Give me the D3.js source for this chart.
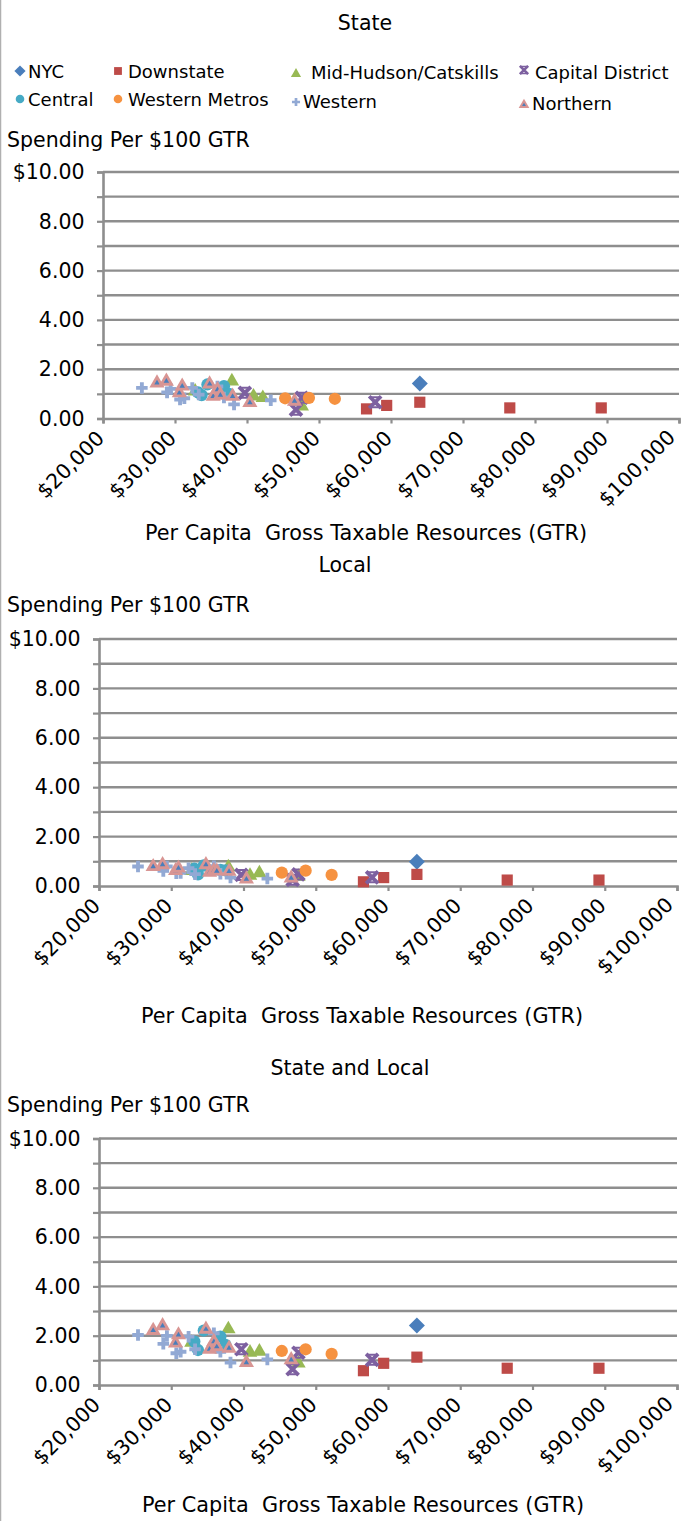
<!DOCTYPE html>
<html><head><meta charset="utf-8">
<script src="https://cdn.jsdelivr.net/npm/d3@7"></script>
<style>
body{margin:0;background:#fff}
svg{display:block}
text{font-family:"DejaVu Sans",sans-serif;fill:#000}
</style>
</head><body>
<svg id="chart" width="683" height="1521"></svg>
<script>
// ---------------- DATA ----------------
const panelTitles = ["State", "Local", "State and Local"];
const yAxisTitle = "Spending Per $100 GTR";
const xAxisTitle = "Per Capita  Gross Taxable Resources (GTR)";
const xTickValues = [20000, 30000, 40000, 50000, 60000, 70000, 80000, 90000, 100000];
const yTickValues = [0, 1, 2, 3, 4, 5, 6, 7, 8, 9, 10];
const seriesNames = ["NYC", "Downstate", "Mid-Hudson/Catskills", "Capital District",
  "Central", "Western Metros", "Western", "Northern"];

// Per capita GTR (x) and spending per $100 GTR for State / Local / State and Local
const nycGTR = [64000];
const nycState = [1.42];
const nycLocal = [0.98];
const nycTotal = [2.41];

const downstateGTR = [56600, 59400, 64000, 76500, 89200];
const downstateState = [0.39, 0.53, 0.66, 0.43, 0.43];
const downstateLocal = [0.17, 0.34, 0.47, 0.24, 0.24];
const downstateTotal = [0.58, 0.88, 1.13, 0.68, 0.68];

const midHudsonGTR = [32800, 37900, 40900, 42200, 47600];
const midHudsonState = [1.10, 1.51, 0.90, 0.84, 0.50];
const midHudsonLocal = [0.62, 0.76, 0.42, 0.52, 0.38];
const midHudsonTotal = [1.72, 2.27, 1.32, 1.36, 0.88];

const capitalGTR = [39700, 46800, 47600, 57800];
const capitalState = [1.04, 0.36, 0.84, 0.66];
const capitalLocal = [0.45, 0.25, 0.47, 0.35];
const capitalTotal = [1.45, 0.64, 1.31, 1.02];

const centralGTR = [33200, 33700, 34500, 36800, 37500];
const centralState = [1.06, 0.95, 1.38, 1.31, 1.00];
const centralLocal = [0.70, 0.47, 0.83, 0.65, 0.63];
const centralTotal = [1.76, 1.42, 2.21, 1.96, 1.63];

const westernMetrosGTR = [45300, 48600, 52200];
const westernMetrosState = [0.82, 0.84, 0.80];
const westernMetrosLocal = [0.54, 0.62, 0.45];
const westernMetrosTotal = [1.38, 1.45, 1.26];

const westernGTR = [25400, 28900, 29400, 30700, 31300, 32400, 33300, 35900, 36800, 38200, 43300];
const westernState = [1.24, 1.06, 1.20, 0.77, 0.82, 1.24, 0.97, 1.30, 0.85, 0.57, 0.74];
const westernLocal = [0.79, 0.61, 0.79, 0.52, 0.53, 0.72, 0.48, 0.80, 0.50, 0.34, 0.30];
const westernTotal = [2.03, 1.67, 1.99, 1.29, 1.35, 1.96, 1.45, 2.10, 1.35, 0.91, 1.04];

const northernGTR = [27500, 28800, 30600, 31000, 34800, 35300, 35900, 36300, 38000, 40400, 46600];
const northernState = [1.44, 1.51, 1.04, 1.31, 1.40, 0.90, 1.17, 0.95, 0.90, 0.64, 0.70];
const northernLocal = [0.78, 0.86, 0.62, 0.72, 0.86, 0.55, 0.62, 0.60, 0.59, 0.28, 0.32];
const northernTotal = [2.21, 2.40, 1.70, 2.03, 2.26, 1.45, 1.76, 1.55, 1.49, 0.91, 1.02];

// ---------------- BUILD TABLE ----------------
const seriesData = [
  [nycGTR, nycState, nycLocal, nycTotal],
  [downstateGTR, downstateState, downstateLocal, downstateTotal],
  [midHudsonGTR, midHudsonState, midHudsonLocal, midHudsonTotal],
  [capitalGTR, capitalState, capitalLocal, capitalTotal],
  [centralGTR, centralState, centralLocal, centralTotal],
  [westernMetrosGTR, westernMetrosState, westernMetrosLocal, westernMetrosTotal],
  [westernGTR, westernState, westernLocal, westernTotal],
  [northernGTR, northernState, northernLocal, northernTotal]
].map((arr, i) => ({
  name: seriesNames[i],
  points: arr[0].map((x, j) => ({ x, v: [arr[1][j], arr[2][j], arr[3][j]] }))
}));

// ---------------- STYLES ----------------
const styles = {
  "NYC": { type: "diamond", fill: "#4A7EBB" },
  "Downstate": { type: "square", fill: "#BE4B48" },
  "Mid-Hudson/Catskills": { type: "triangle", fill: "#98B954" },
  "Capital District": { type: "x", fill: "#7D60A0" },
  "Central": { type: "circle", fill: "#46AAC5" },
  "Western Metros": { type: "circle", fill: "#F69240" },
  "Western": { type: "plus", fill: "#92A9D4" },
  "Northern": { type: "northern", fill: "#D89593", inner: "#4A7EBB" }
};

function drawMarker(g, name, x, y, k) {
  const s = styles[name];
  const t = `translate(${x},${y})`;
  if (s.type === "diamond") {
    g.append("path").attr("d", d3.symbol(d3.symbolSquare, 128 * k * k)()).attr("transform", t + " rotate(45)").attr("fill", s.fill);
  } else if (s.type === "square") {
    g.append("path").attr("d", d3.symbol(d3.symbolSquare, 125 * k * k)()).attr("transform", t).attr("fill", s.fill);
  } else if (s.type === "triangle") {
    g.append("path").attr("d", d3.symbol(d3.symbolTriangle, 92 * k * k)()).attr("transform", t).attr("fill", s.fill);
  } else if (s.type === "circle") {
    g.append("path").attr("d", d3.symbol(d3.symbolCircle, 118 * k * k)()).attr("transform", t).attr("fill", s.fill);
  } else if (s.type === "plus") {
    g.append("path").attr("d", d3.symbol(d3.symbolCross, 74 * k * k)()).attr("transform", t).attr("fill", s.fill);
  } else if (s.type === "x") {
    g.append("path").attr("d", d3.symbol(d3.symbolX, 95 * k * k)()).attr("transform", t)
      .attr("fill", "none").attr("stroke", s.fill).attr("stroke-width", 3.8 * k);
    const h = 5 * k;
    g.append("path").attr("d", `M${-h},${-h}H${h}M${-h},${h}H${h}`).attr("transform", t)
      .attr("stroke", s.fill).attr("stroke-width", 2 * k);
  } else if (s.type === "northern") {
    g.append("path").attr("d", d3.symbol(d3.symbolTriangle, 100 * k * k)()).attr("transform", t).attr("fill", s.fill);
    g.append("path").attr("d", d3.symbol(d3.symbolTriangle, 13 * k * k)()).attr("transform", t).attr("fill", s.inner);
  }
}

// ---------------- LAYOUT ----------------
const svg = d3.select("#chart");
const gridColor = "#8e8e8e";

// left border line
svg.append("line").attr("x1", 0.5).attr("x2", 0.5).attr("y1", 0).attr("y2", 1521)
  .attr("stroke", "#b0b0b0").attr("stroke-width", 1.5);

const panels = [
  { left: 103, right: 679, top: 172, bottom: 418.5, titleX: 365, titleY: 29.5, yTitleY: 147, xTitleX: 366, xTitleY: 540 },
  { left: 99, right: 677, top: 639, bottom: 886, titleX: 345, titleY: 572, yTitleY: 612, xTitleX: 362, xTitleY: 1023 },
  { left: 99, right: 677, top: 1138.5, bottom: 1385, titleX: 350, titleY: 1075, yTitleY: 1112, xTitleX: 363, xTitleY: 1512 }
];

panels.forEach((p, pi) => {
  const x = d3.scaleLinear().domain([20000, 100000]).range([p.left, p.right]);
  const y = d3.scaleLinear().domain([0, 10]).range([p.bottom, p.top]);

  svg.append("text").attr("x", p.titleX).attr("y", p.titleY).attr("text-anchor", "middle")
    .attr("font-size", 20.5).text(panelTitles[pi]);
  svg.append("text").attr("x", 7).attr("y", p.yTitleY).attr("font-size", 20.5).text(yAxisTitle);
  svg.append("text").attr("x", p.xTitleX).attr("y", p.xTitleY).attr("text-anchor", "middle")
    .attr("font-size", 20.5).attr("textLength", 442).attr("lengthAdjust", "spacingAndGlyphs")
    .style("white-space", "pre").text(xAxisTitle);

  // gridlines
  svg.append("g").selectAll("line").data(yTickValues.filter(d => d > 0)).join("line")
    .attr("x1", p.left).attr("x2", p.right).attr("y1", d => y(d)).attr("y2", d => y(d))
    .attr("stroke", gridColor).attr("stroke-width", 2.4);

  // y axis
  const yAxis = svg.append("g").attr("transform", `translate(${p.left},0)`)
    .call(d3.axisLeft(y).tickValues(yTickValues).tickSize(6)
      .tickFormat(d => d === 10 ? "$10.00" : (d % 2 === 0 ? d.toFixed(2) : "")));
  yAxis.select(".domain").attr("stroke", gridColor).attr("stroke-width", 2.6);
  yAxis.selectAll(".tick line").attr("stroke", gridColor).attr("stroke-width", 2.2);
  yAxis.selectAll(".tick text").attr("x", -18.5).attr("dy", "0.33em")
    .attr("font-size", 20.5).attr("font-family", "DejaVu Sans").attr("fill", "#000");

  // x axis
  const xAxis = svg.append("g").attr("transform", `translate(0,${p.bottom})`)
    .call(d3.axisBottom(x).tickValues(xTickValues).tickSize(5)
      .tickFormat(d => "$" + d3.format(",")(d)));
  xAxis.select(".domain").attr("stroke", gridColor).attr("stroke-width", 2.6);
  xAxis.selectAll(".tick line").attr("stroke", gridColor).attr("stroke-width", 2.2);
  xAxis.selectAll(".tick text").attr("x", 0).attr("y", 0).attr("dy", 0)
    .attr("text-anchor", "end")
    .attr("transform", d => d === 100000 ? "translate(-3,20) rotate(-45)" : "translate(2,21) rotate(-45)")
    .attr("font-size", 20.5).attr("font-family", "DejaVu Sans").attr("fill", "#000");

  // points
  const gp = svg.append("g");
  seriesData.forEach(s => {
    s.points.forEach(pt => drawMarker(gp, s.name, x(pt.x), y(pt.v[pi]), 1));
  });
});

// ---------------- LEGEND ----------------
const legendLayout = [
  { mx: 20, my: 71, tx: 28, ty: 77.5 },
  { mx: 118, my: 71, tx: 128, ty: 77.5 },
  { mx: 296, my: 74, tx: 311, ty: 79 },
  { mx: 524, my: 70, tx: 535, ty: 79 },
  { mx: 20, my: 99, tx: 28, ty: 105.5 },
  { mx: 118, my: 99, tx: 128, ty: 105.5 },
  { mx: 296, my: 102, tx: 303, ty: 108 },
  { mx: 524, my: 105, tx: 532, ty: 110 }
];
const gl = svg.append("g");
seriesNames.forEach((n, i) => {
  const L = legendLayout[i];
  drawMarker(gl, n, L.mx, L.my, 0.7);
  gl.append("text").attr("x", L.tx).attr("y", L.ty).attr("font-size", 18).text(n);
});
</script>
</body></html>
